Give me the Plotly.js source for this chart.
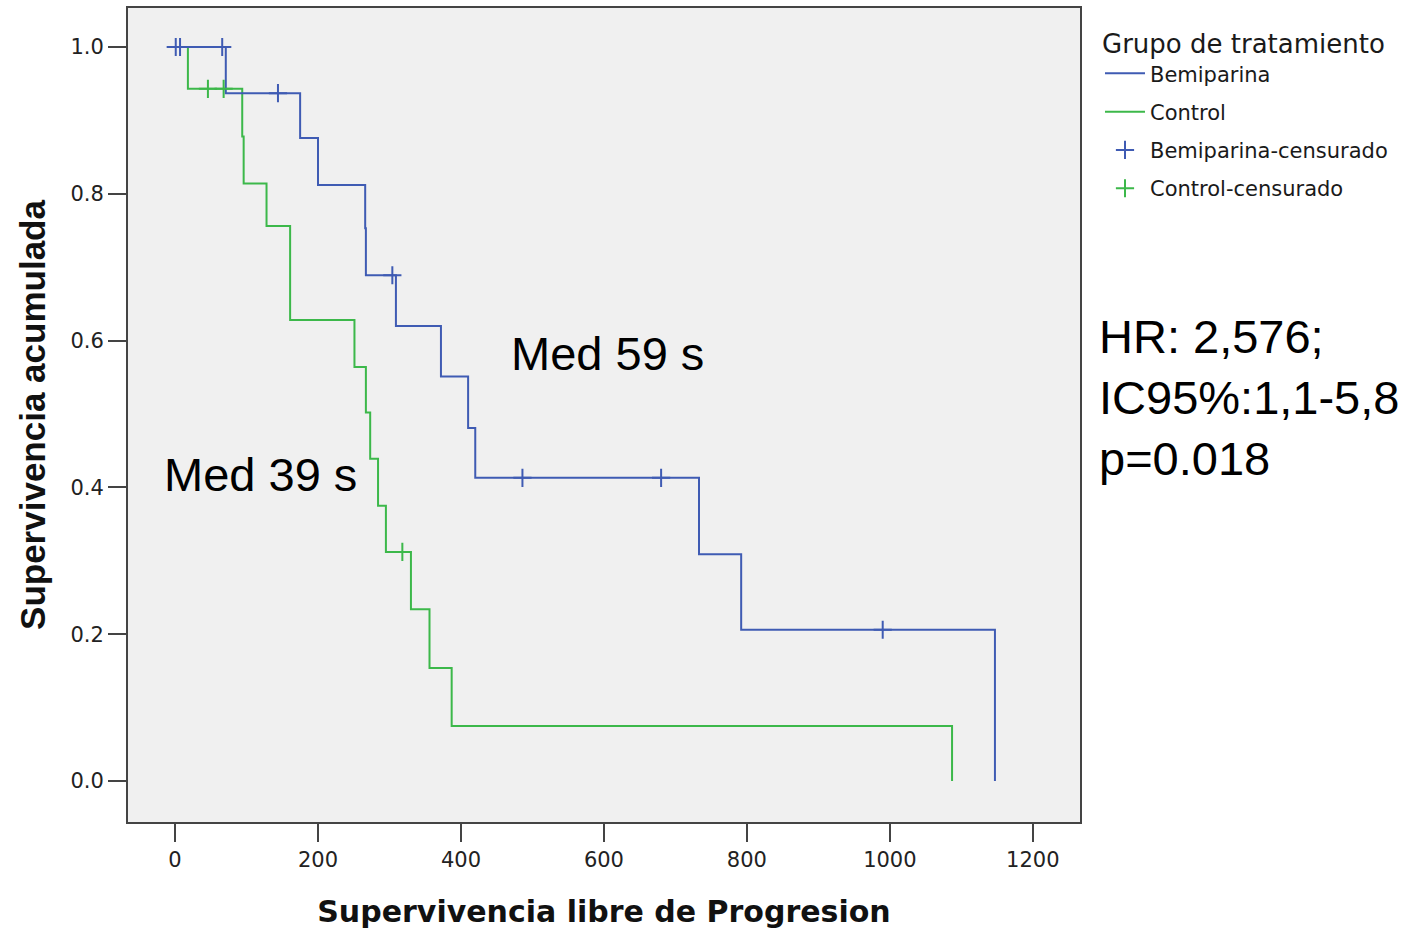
<!DOCTYPE html>
<html>
<head>
<meta charset="utf-8">
<script src="https://cdn.plot.ly/plotly-3.0.1.min.js"></script>
<style>
  html, body { margin: 0; padding: 0; background: #fff; }
  #chart { width: 1413px; height: 931px; }
</style>
</head>
<body>
<div id="chart"></div>
<script>
// ---- Data (Kaplan-Meier curves) ----
const bemiTimes    = [0, 71, 175, 200, 266, 267, 309, 372, 410, 420, 733, 792, 1147];
const bemiSurv     = [1.0, 0.937, 0.876, 0.812, 0.753, 0.689, 0.620, 0.551, 0.481, 0.413, 0.309, 0.206, 0.0];
const bemiCensT    = [1, 7, 66, 144, 304, 486, 680, 990];
const bemiCensS    = [1.0, 1.0, 1.0, 0.937, 0.689, 0.413, 0.413, 0.206];

const ctrlTimes    = [0, 18, 94, 96, 128, 161, 251, 267, 273, 284, 295, 330, 356, 387, 1087];
const ctrlSurv     = [1.0, 0.943, 0.878, 0.814, 0.756, 0.628, 0.564, 0.502, 0.439, 0.375, 0.312, 0.234, 0.154, 0.075, 0.0];
const ctrlCensT    = [46, 68, 318];
const ctrlCensS    = [0.943, 0.943, 0.312];

const xTicks = [0, 200, 400, 600, 800, 1000, 1200];
const yTicks = [0.0, 0.2, 0.4, 0.6, 0.8, 1.0];

const seriesNames = ["Bemiparina", "Control", "Bemiparina-censurado", "Control-censurado"];
const legendTitle = "Grupo de tratamiento";
const xTitle = "Supervivencia libre de Progresion";
const yTitle = "Supervivencia acumulada";
const medLabels = ["Med 59 s", "Med 39 s"];
const statsText = "HR: 2,576;<br>IC95%:1,1-5,8<br>p=0.018";

const BLUE = "#3f5bb3";
const GREEN = "#3cb84a";

const traces = [
  { x: ctrlTimes, y: ctrlSurv, type: "scatter", mode: "lines", name: seriesNames[1],
    line: { shape: "hv", color: GREEN, width: 2 }, legendrank: 2, legendgroup: "b" },
  { x: bemiTimes, y: bemiSurv, type: "scatter", mode: "lines", name: seriesNames[0],
    line: { shape: "hv", color: BLUE, width: 2 }, legendrank: 1, legendgroup: "a" },
  { x: bemiCensT, y: bemiCensS, type: "scatter", mode: "markers", name: seriesNames[2],
    marker: { symbol: "cross-thin", size: 13, line: { color: BLUE, width: 2 }, color: BLUE },
    legendrank: 3, legendgroup: "c" },
  { x: ctrlCensT, y: ctrlCensS, type: "scatter", mode: "markers", name: seriesNames[3],
    marker: { symbol: "cross-thin", size: 13, line: { color: GREEN, width: 2 }, color: GREEN },
    legendrank: 4, legendgroup: "d" }
];

const layout = {
  width: 1413, height: 931,
  margin: { l: 128, r: 333, t: 8, b: 109 },
  paper_bgcolor: "#ffffff",
  plot_bgcolor: "#f0f0f0",
  font: { family: "DejaVu Sans, Arial, sans-serif", color: "#1a1a1a" },
  showlegend: true,
  legend: {
    x: 1.021, y: 0.986, xanchor: "left", yanchor: "top",
    bgcolor: "rgba(0,0,0,0)",
    font: { family: "DejaVu Sans, sans-serif", size: 21, color: "#1a1a1a" },
    title: { text: legendTitle, font: { family: "DejaVu Sans, sans-serif", size: 26, color: "#1a1a1a" } },
    traceorder: "grouped", tracegroupgap: 8, itemwidth: 40
  },
  xaxis: {
    range: [-65.8, 1266], tickvals: xTicks, ticktext: xTicks.map(String),
    ticks: "outside", ticklen: 18, tickwidth: 2, tickcolor: "#444",
    showgrid: false, zeroline: false,
    showline: true, mirror: true, linecolor: "#444", linewidth: 2,
    tickfont: { family: "DejaVu Sans, sans-serif", size: 21, color: "#222" },
    title: { text: xTitle, standoff: 30, font: { family: "DejaVu Sans, sans-serif", size: 30, weight: "bold", color: "#111" } }
  },
  yaxis: {
    range: [-0.0559, 1.0531], tickvals: yTicks, ticktext: yTicks.map(v => v.toFixed(1)),
    ticks: "outside", ticklen: 18, tickwidth: 2, tickcolor: "#444",
    showgrid: false, zeroline: false,
    showline: true, mirror: true, linecolor: "#444", linewidth: 2,
    tickfont: { family: "DejaVu Sans, sans-serif", size: 21, color: "#222" },
    title: { text: yTitle, standoff: 14, font: { family: "Liberation Sans, Arial, sans-serif", size: 35, weight: "bold", color: "#111" } }
  },
  annotations: [
    { xref: "x", yref: "y", x: 605, y: 0.582, text: medLabels[0], showarrow: false,
      xanchor: "center", yanchor: "middle",
      font: { family: "Liberation Sans, Arial, sans-serif", size: 47, color: "#000" } },
    { xref: "x", yref: "y", x: 119, y: 0.418, text: medLabels[1], showarrow: false,
      xanchor: "center", yanchor: "middle",
      font: { family: "Liberation Sans, Arial, sans-serif", size: 47, color: "#000" } },
    { xref: "paper", yref: "paper", x: 1.018, y: 0.521, text: statsText, showarrow: false,
      xanchor: "left", yanchor: "middle", align: "left",
      font: { family: "Liberation Sans, Arial, sans-serif", size: 47, color: "#000" } }
  ]
};

Plotly.newPlot("chart", traces, layout, { staticPlot: true, displayModeBar: false });
</script>
</body>
</html>
